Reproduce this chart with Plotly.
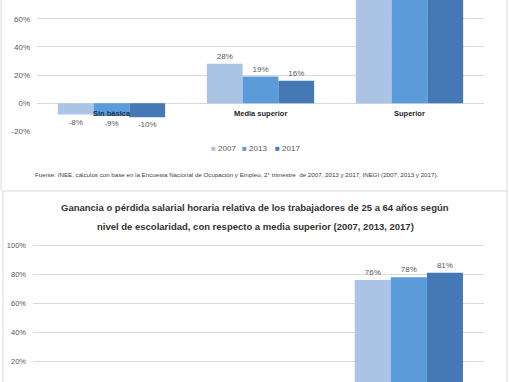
import plotly.graph_objects as go

W, H = 510, 382

years = ["2007", "2013", "2017"]
colors = ["#ABC4E6", "#5B9BDA", "#4479B5"]

# Top chart: relative to básica
cats_top = ["Sin básica", "Media superior", "Superior"]
vals_top = {
    "2007": [-8, 28, 125],
    "2013": [-9, 19, 112],
    "2017": [-10, 16, 110],
}

# Bottom chart: relative to media superior
cats_bot = ["Sin básica", "Básica", "Superior"]
vals_bot = {
    "2007": [-28, -22, 76],
    "2013": [-24, -16, 78],
    "2017": [-22, -14, 81],
}

title_lines = [
    "Ganancia o pérdida salarial horaria relativa de los trabajadores de 25 a 64 años según",
    "nivel de escolaridad, con respecto a media superior (2007, 2013, 2017)",
]
source = ("Fuente: INEE, cálculos con base en la Encuesta Nacional de Ocupación y Empleo, "
          "2° trimestre  de 2007, 2013 y 2017, INEGI (2007, 2013 y 2017).")

def py(px):
    return 1 - px / H

def px_x(px):
    return px / W

top_range = [-20.4, 73.3]
bot_range = [6.2, 105.5]

fig = go.Figure()
FONT = "Liberation Sans, Arial, sans-serif"
grey = "#595959"

for i, y in enumerate(years):
    v = vals_top[y]
    fig.add_trace(go.Bar(
        x=cats_top, y=v, xaxis="x", yaxis="y", marker=dict(color=colors[i], line=dict(width=0)),
        text=[f"{t}%" for t in v],
        textposition=["outside" if top_range[0] < t < top_range[1] - 8 else "none" for t in v],
        textfont=dict(size=8, color=grey, family=FONT),
        cliponaxis=True, showlegend=False, name=y,
    ))
for i, y in enumerate(years):
    v = vals_bot[y]
    fig.add_trace(go.Bar(
        x=cats_bot, y=v, xaxis="x2", yaxis="y2", marker=dict(color=colors[i], line=dict(width=0)),
        text=[f"{t}%" for t in v],
        textposition=["outside" if bot_range[0] < t < bot_range[1] else "none" for t in v],
        textfont=dict(size=8, color=grey, family=FONT),
        cliponaxis=True, showlegend=False, name=y,
    ))

annotations = []
for c in cats_top:
    annotations.append(dict(
        x=c, y=0, xref="x", yref="y", text=f"<b>{c}</b>", showarrow=False,
        yanchor="middle", yshift=-10.5,
        font=dict(size=7.5, color="#1F3350" if c == "Sin básica" else "#262626", family=FONT),
    ))
# legend (top chart)
legend_x = [209, 240, 273]
for i, y in enumerate(years):
    annotations.append(dict(
        x=px_x(legend_x[i]), y=py(148), xref="paper", yref="paper", xanchor="left", yanchor="middle",
        text=f"<span style='color:{colors[i]}'>■</span> {y}", showarrow=False,
        font=dict(size=8, color=grey, family=FONT),
    ))
annotations.append(dict(
    x=px_x(33), y=py(175), xref="paper", yref="paper", xanchor="left", yanchor="middle",
    text=source, showarrow=False, font=dict(size=6.2, color="#404040", family=FONT),
))
for j, line in enumerate(title_lines):
    annotations.append(dict(
        x=px_x(255), y=py(207 + 19 * j), xref="paper", yref="paper", xanchor="center",
        yanchor="middle", text=f"<b>{line}</b>", showarrow=False,
        font=dict(size=9.5, color="#333333", family=FONT),
    ))

border = "#D9D9D9"
shapes = [
    dict(type="line", xref="paper", yref="paper", x0=px_x(1), x1=px_x(1), y0=py(0), y1=py(190), line=dict(color=border, width=1)),
    dict(type="line", xref="paper", yref="paper", x0=px_x(507), x1=px_x(507), y0=py(0), y1=py(382), line=dict(color=border, width=1)),
    dict(type="line", xref="paper", yref="paper", x0=px_x(1), x1=px_x(507), y0=py(191), y1=py(191), line=dict(color=border, width=1)),
    dict(type="line", xref="paper", yref="paper", x0=px_x(3), x1=px_x(3), y0=py(192), y1=py(382), line=dict(color=border, width=1)),
]

fig.update_layout(
    width=W, height=H, margin=dict(l=0, r=0, t=0, b=0, autoexpand=False),
    paper_bgcolor="white", plot_bgcolor="white",
    barmode="group", bargap=0.28, bargroupgap=0, showlegend=False,
    font=dict(family=FONT, color=grey),
    xaxis=dict(domain=[px_x(37), px_x(484)], anchor="y", showticklabels=False, showgrid=False,
               zeroline=False, showline=False, ticks="", automargin=False),
    yaxis=dict(domain=[py(132), py(0)], anchor="x", range=top_range, tickvals=[-20, 0, 20, 40, 60],
               ticktext=["-20%", "0%", "20%", "40%", "60%"], showgrid=True, gridcolor="#D9D9D9",
               gridwidth=1, zeroline=False, tickfont=dict(size=8, color=grey), ticklabelstandoff=6,
               automargin=False),
    xaxis2=dict(domain=[px_x(33), px_x(484)], anchor="y2", showticklabels=False, showgrid=False,
                zeroline=False, showline=False, ticks="", automargin=False),
    yaxis2=dict(domain=[py(382), py(237)], anchor="x2", range=bot_range, tickvals=[20, 40, 60, 80, 100],
                ticktext=["20%", "40%", "60%", "80%", "100%"], showgrid=True, gridcolor="#D9D9D9",
                gridwidth=1, zeroline=False, tickfont=dict(size=7.5, color=grey), ticklabelstandoff=6,
                automargin=False),
    annotations=annotations, shapes=shapes,
)

fig.write_html("out.html", config={"displayModeBar": False},
               post_script="document.body.style.margin='0';document.body.style.overflow='hidden';")
